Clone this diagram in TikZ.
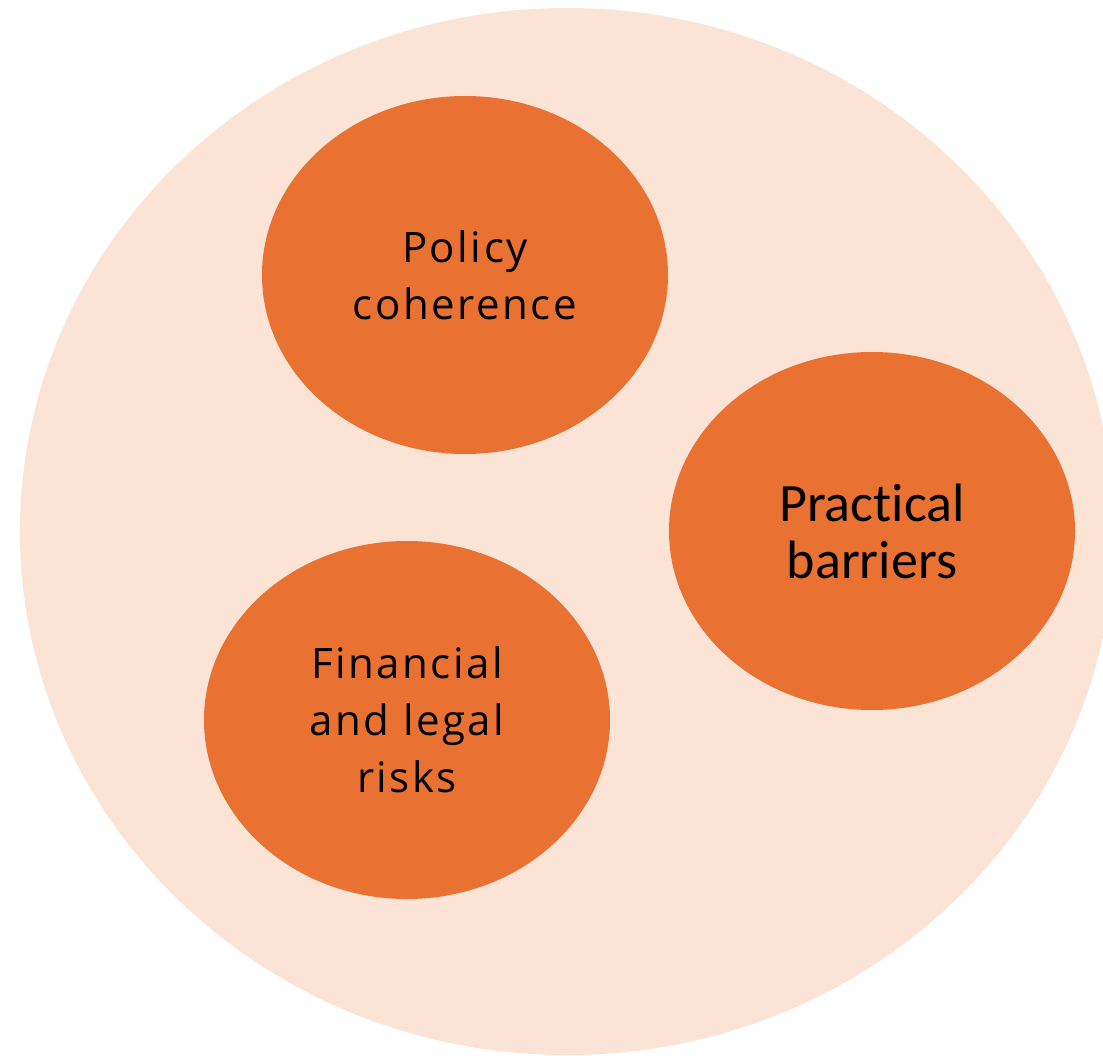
\documentclass[tikz,border=0pt]{standalone}
\usepackage{fontspec}
\usepackage{xcolor}
\usetikzlibrary{shapes.geometric}

\setmainfont[LetterSpace=6]{Open Sans}
\newfontfamily\gillfont[Ligatures=NoCommon]{Carlito}

\definecolor{peach}{HTML}{FBE3D6}
\definecolor{burnt}{HTML}{E97132}

\begin{document}
\begin{tikzpicture}[x=1pt, y=-1pt,
    bubble/.style={ellipse, fill=burnt, draw=none, inner sep=0pt,
        minimum width=406pt, minimum height=358pt, align=center,
        text=black, font=\fontsize{42}{57}\selectfont}]
    \useasboundingbox (0,0) rectangle (1103,1056);
    \clip (0,0) rectangle (1103,1056);

    \fill[peach] (567,531.5) ellipse (547 and 523.5); % outer field

    \node[bubble] (policy) at (465,275) {Policy\\coherence};
    \node[bubble, font=\gillfont\fontsize{54}{57}\selectfont] (practical) at (872,531) {Practical\\barriers};
    \node[bubble] (financial) at (407,720) {Financial\\and legal\\risks};
\end{tikzpicture}
\end{document}
